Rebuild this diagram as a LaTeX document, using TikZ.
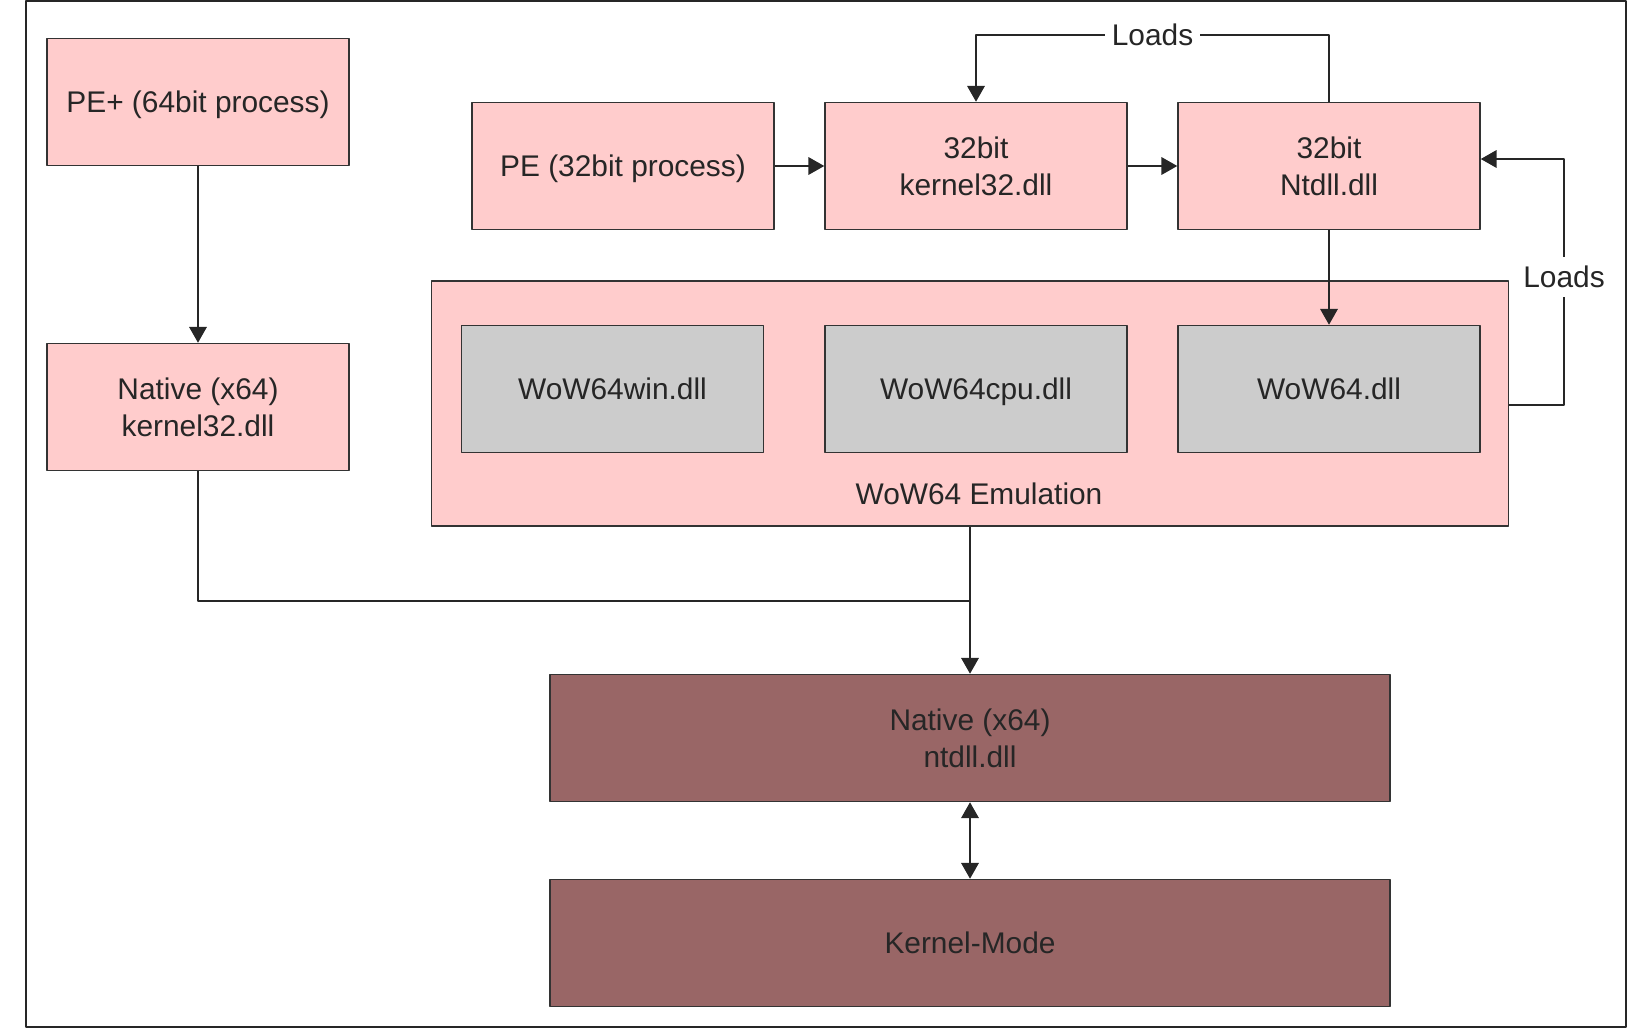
\documentclass[tikz,border=0pt]{standalone}
\usepackage{fontspec}
\setmainfont{Liberation Sans}
\usetikzlibrary{arrows.meta}
\definecolor{pinkfill}{HTML}{FFCCCC}
\definecolor{greyfill}{HTML}{CCCCCC}
\definecolor{brownfill}{HTML}{996666}
\begin{document}
\begin{tikzpicture}[x=.02cm,y=-.02cm,>={Triangle[length=9pt,width=10pt]}, line join=round, text=black!85,
	font=\fontsize{17}{21}\selectfont,
	dllbox/.style={draw=black!80, line width=.9pt, fill=pinkfill, minimum width=6.04cm, minimum height=2.54cm, align=center, inner sep=0pt},
	emubox/.style={dllbox, fill=greyfill},
	corebox/.style={dllbox, fill=brownfill, minimum width=16.8cm},
	oneline/.style={text height=13.4pt, text depth=1.2pt},
	loadlabel/.style={fill=white, inner sep=4pt},
	link/.style={draw=black!85, line width=.9pt}]
			\useasboundingbox (0,0) rectangle (1650,1028);
			\draw[line width=1.4pt, black!85] (26,1) rectangle (1626,1027);
			\node[dllbox, oneline] (pe64) at (198,102) {PE+ (64bit process)};
			\node[dllbox] (nk32) at (198,407) {Native (x64)\\kernel32.dll};
			\node[dllbox, oneline] (pe32) at (623,166) {PE (32bit process)};
			\node[dllbox] (k32) at (976,166) {32bit\\kernel32.dll};
			\node[dllbox] (nt32) at (1329,166) {32bit\\Ntdll.dll};
			% khung WoW64 va cac dll ben trong
			\node[dllbox, minimum width=21.54cm, minimum height=4.9cm] (emu) at (970,403.5) {};
			\node[oneline] (emulbl) at (979,494) {WoW64 Emulation};
			\node[emubox, oneline] (wwin) at (612.5,389) {WoW64win.dll};
			\node[emubox, oneline] (wcpu) at (976,389) {WoW64cpu.dll};
			\node[emubox, oneline] (wdll) at (1329,389) {WoW64.dll};
			\node[corebox] (ntdll) at (970,738) {Native (x64)\\ntdll.dll};
			\node[corebox, oneline] (kmode) at (970,943) {Kernel-Mode};
			\coordinate (join) at (970,601);
			\coordinate (topline) at (0,35);
			\coordinate (sideline) at (1564,0);
			\draw[link,->] (pe64) -- (nk32);
			\draw[link] (nk32.south) |- (join);
			\draw[link,->] (emu.south) -- (ntdll.north);
			\draw[link,->] (pe32) -- (k32);
			\draw[link,->] (k32) -- (nt32);
			\draw[link,->] (nt32.north) -- (nt32.north |- topline) -- node[loadlabel, oneline]{Loads} (k32.north |- topline) -- (k32.north);
			\draw[link,->] (nt32) -- (wdll);
			\draw[link,->] (emu.east |- 0,405) -- (sideline |- 0,405) -- node[loadlabel, oneline, pos=.52]{Loads} (sideline |- 0,159) -- (nt32.east |- 0,159);
			\draw[link,<->] (ntdll) -- (kmode);
\end{tikzpicture}
\end{document}
